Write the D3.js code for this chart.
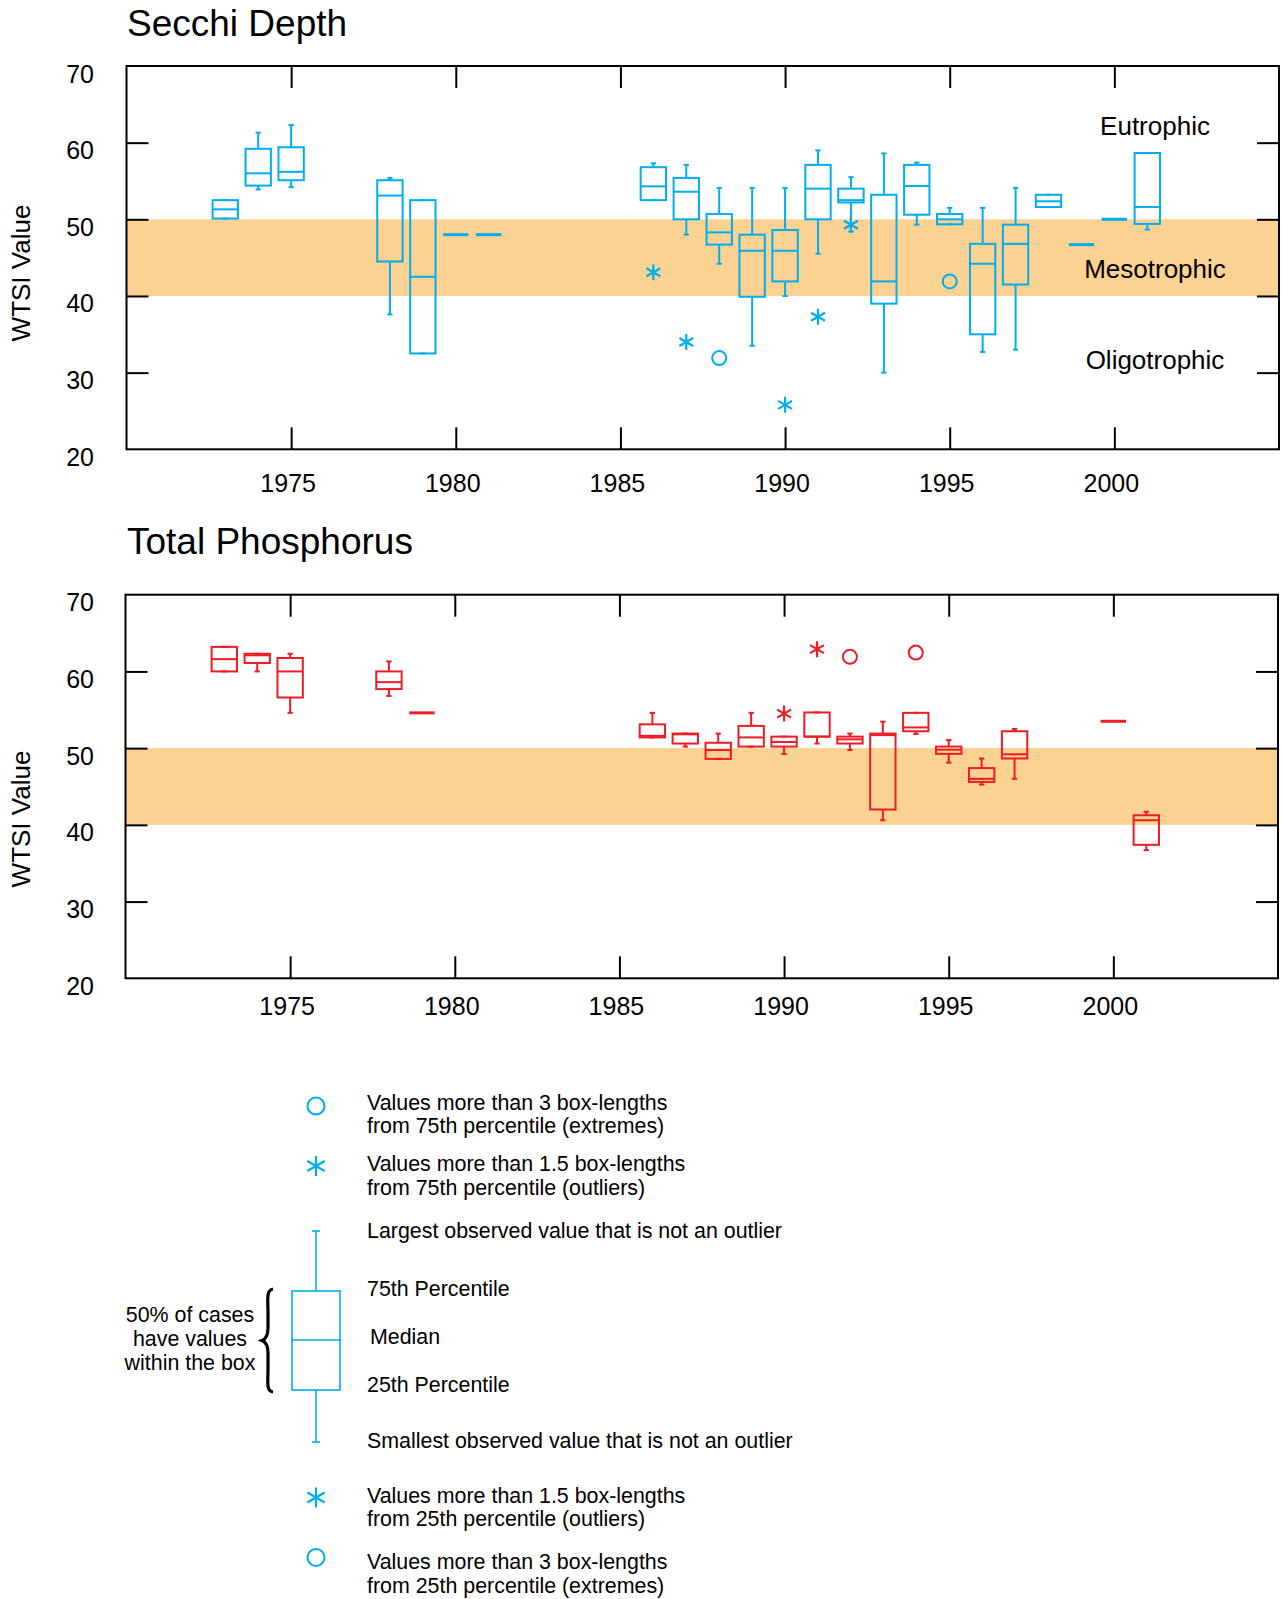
<!DOCTYPE html>
<html>
<head>
<meta charset="utf-8">
<script src="https://cdn.jsdelivr.net/npm/d3@7"></script>
<style>
  html, body { margin: 0; padding: 0; background: #fff; }
  svg { display: block; }
  text { font-family: "Liberation Sans", Arial, Helvetica, sans-serif; fill: #000; }
</style>
</head>
<body>
<svg id="chart" width="1283" height="1599"></svg>
<script>
// ---------- DATA ----------
const xTicks = [1975, 1980, 1985, 1990, 1995, 2000];
const yTicks = [20, 30, 40, 50, 60, 70];
const bandRange = [40, 50];

// Secchi Depth (WTSI)
const secchiYears = [1973, 1974, 1975, 1978, 1979, 1980, 1981, 1986, 1987, 1988, 1989, 1990, 1991, 1992, 1993, 1994, 1995, 1996, 1997, 1998, 1999, 2000, 2001];
const secchiMin   = [50.1, 53.9, 54.2, 37.6, 32.5, 48.0, 48.0, 52.5, 48.0, 44.2, 33.5, 40.0, 45.5, 48.4, 30.0, 49.3, 49.35, 32.7, 33.0, 51.6, 46.7, 50.0, 48.65];
const secchiQ1    = [50.1, 54.4, 55.1, 44.5, 32.5, 48.0, 48.0, 52.5, 50.0, 46.7, 39.9, 41.9, 50.0, 52.2, 39.0, 50.6, 49.35, 35.0, 41.5, 51.6, 46.7, 50.0, 49.4];
const secchiMed   = [51.3, 56.0, 56.2, 53.1, 42.5, 48.0, 48.0, 54.3, 53.6, 48.3, 45.9, 45.9, 54.0, 52.5, 41.9, 54.35, 50.0, 44.2, 46.8, 52.35, 46.7, 50.0, 51.6];
const secchiQ3    = [52.5, 59.2, 59.4, 55.1, 52.5, 48.0, 48.0, 56.8, 55.4, 50.7, 48.0, 48.6, 57.1, 54.0, 53.2, 57.1, 50.7, 46.8, 49.3, 53.2, 46.7, 50.0, 58.65];
const secchiMax   = [52.5, 61.3, 62.3, 55.4, 52.5, 48.0, 48.0, 57.3, 57.1, 54.1, 54.1, 54.1, 59.0, 55.5, 58.6, 57.4, 51.5, 51.5, 54.1, 53.2, 46.7, 50.0, 58.65];
const secchiOutYears  = [1986, 1987, 1988, 1990, 1991, 1992, 1995];
const secchiOutValues = [43.1, 34.0, 31.9, 25.8, 37.3, 49.3, 41.9];
const secchiOutKinds  = ["outlier", "outlier", "extreme", "outlier", "outlier", "outlier", "extreme"];

// Total Phosphorus (WTSI)
const tpYears = [1973, 1974, 1975, 1978, 1979, 1986, 1987, 1988, 1989, 1990, 1991, 1992, 1993, 1994, 1995, 1996, 1997, 2000, 2001];
const tpMin   = [60.0, 60.0, 54.6, 56.8, 54.6, 51.4, 50.2, 48.6, 50.2, 49.24, 50.6, 49.75, 40.6, 51.85, 48.1, 45.25, 46.0, 53.5, 36.7];
const tpQ1    = [60.0, 61.1, 56.6, 57.7, 54.6, 51.4, 50.6, 48.6, 50.2, 50.2, 51.5, 50.6, 42.0, 52.2, 49.25, 45.6, 48.65, 53.5, 37.4];
const tpMed   = [61.6, 62.1, 60.0, 58.6, 54.6, 51.6, 51.8, 49.75, 51.4, 50.8, 51.5, 51.15, 51.7, 52.7, 49.8, 46.0, 49.2, 53.5, 40.6];
const tpQ3    = [63.2, 62.3, 61.75, 60.0, 54.6, 53.1, 51.9, 50.7, 52.9, 51.5, 54.65, 51.5, 51.9, 54.6, 50.2, 47.4, 52.2, 53.5, 41.25];
const tpMax   = [63.2, 62.3, 62.3, 61.3, 54.6, 54.6, 51.9, 51.9, 54.6, 51.5, 54.65, 51.9, 53.45, 54.6, 51.05, 48.65, 52.5, 53.5, 41.7];
const tpOutYears  = [1990, 1991, 1992, 1994];
const tpOutValues = [54.5, 62.9, 61.9, 62.45];
const tpOutKinds  = ["outlier", "outlier", "extreme", "extreme"];

const zoneLabels = ["Eutrophic", "Mesotrophic", "Oligotrophic"];
const zoneValues = [62.2, 43.5, 31.6];

const legendItems = [
  ["Values more than 3 box-lengths", "from 75th percentile (extremes)"],
  ["Values more than 1.5 box-lengths", "from 75th percentile (outliers)"],
  ["Largest observed value that is not an outlier"],
  ["75th Percentile"],
  ["Median"],
  ["25th Percentile"],
  ["Smallest observed value that is not an outlier"],
  ["Values more than 1.5 box-lengths", "from 25th percentile (outliers)"],
  ["Values more than 3 box-lengths", "from 25th percentile (extremes)"]
];
const braceLabel = ["50% of cases", "have values", "within the box"];

// ---------- STYLE ----------
const BLUE = "#00adee";
const RED = "#ee1c25";
const BAND = "#fbd291";

const svg = d3.select("#chart");

function asteriskPath(cx, cy, r) {
  const p = d3.path();
  [90, 30, 150].forEach(a => {
    const t = a * Math.PI / 180;
    p.moveTo(cx - r * Math.cos(t), cy - r * Math.sin(t));
    p.lineTo(cx + r * Math.cos(t), cy + r * Math.sin(t));
  });
  return p.toString();
}

function panel(opts) {
  const { left, right, top, bottom, title, titleY, ylabelY, xLabelY, color,
          years, mins, q1s, meds, q3s, maxs, outYears, outValues, outKinds, zones } = opts;
  const x = d3.scaleLinear().domain([1970, 2005]).range([left, right]);
  const y = d3.scaleLinear().domain([20, 70]).range([bottom, top]);
  const g = svg.append("g");

  // band
  g.append("rect")
    .attr("x", x(1970)).attr("width", x(2005) - x(1970))
    .attr("y", y(bandRange[1])).attr("height", y(bandRange[0]) - y(bandRange[1]))
    .attr("fill", BAND);

  // axes (ticks inward on all four sides)
  const tl = 22;
  const inner = yTicks.filter(v => v > 20 && v < 70);
  const axB = g.append("g").attr("transform", `translate(0,${bottom})`)
    .call(d3.axisBottom(x).tickValues(xTicks).tickSize(-tl).tickFormat(""));
  const axT = g.append("g").attr("transform", `translate(0,${top})`)
    .call(d3.axisTop(x).tickValues(xTicks).tickSize(-tl).tickFormat(""));
  const axL = g.append("g").attr("transform", `translate(${left},0)`)
    .call(d3.axisLeft(y).tickValues(inner).tickSize(-tl).tickFormat(""));
  const axR = g.append("g").attr("transform", `translate(${right},0)`)
    .call(d3.axisRight(y).tickValues(inner).tickSize(-tl).tickFormat(""));
  [axB, axT, axL, axR].forEach(a => {
    a.select(".domain").remove();
    a.selectAll(".tick line").attr("stroke", "#000").attr("stroke-width", 2);
  });
  // frame
  g.append("rect").attr("x", left).attr("y", top)
    .attr("width", right - left).attr("height", bottom - top)
    .attr("fill", "none").attr("stroke", "#000").attr("stroke-width", 2);

  // tick labels
  g.selectAll(".ylab").data(yTicks).enter().append("text")
    .attr("x", 94).attr("y", d => y(d) + 16.5)
    .attr("text-anchor", "end").attr("font-size", 25).text(d => d);
  g.selectAll(".xlab").data(xTicks).enter().append("text")
    .attr("x", d => x(d) - 3).attr("y", xLabelY)
    .attr("text-anchor", "middle").attr("font-size", 25).text(d => d);

  // title & y label
  g.append("text").attr("x", 127).attr("y", titleY).attr("font-size", 37).text(title);
  g.append("text").attr("transform", `translate(30,${ylabelY}) rotate(-90)`)
    .attr("text-anchor", "middle").attr("font-size", 26).text("WTSI Value");

  // zone labels
  if (zones) {
    g.selectAll(".zone").data(zoneLabels).enter().append("text")
      .attr("x", 1155).attr("y", (d, i) => y(zoneValues[i]) + 9)
      .attr("text-anchor", "middle").attr("font-size", 26).text(d => d);
  }

  // boxes
  const hw = 0.385, cw = 0.08;
  years.forEach((yr, i) => {
    const bx = g.append("g").attr("stroke", color).attr("fill", "none");
    if (mins[i] === maxs[i]) {
      bx.append("line").attr("x1", x(yr - hw)).attr("x2", x(yr + hw))
        .attr("y1", y(meds[i])).attr("y2", y(meds[i])).attr("stroke-width", 3);
      return;
    }
    bx.append("line").attr("x1", x(yr)).attr("x2", x(yr)).attr("y1", y(q3s[i])).attr("y2", y(maxs[i])).attr("stroke-width", 2);
    bx.append("line").attr("x1", x(yr)).attr("x2", x(yr)).attr("y1", y(q1s[i])).attr("y2", y(mins[i])).attr("stroke-width", 2);
    bx.append("line").attr("x1", x(yr - cw)).attr("x2", x(yr + cw)).attr("y1", y(maxs[i])).attr("y2", y(maxs[i])).attr("stroke-width", 2);
    bx.append("line").attr("x1", x(yr - cw)).attr("x2", x(yr + cw)).attr("y1", y(mins[i])).attr("y2", y(mins[i])).attr("stroke-width", 2);
    bx.append("rect").attr("x", x(yr - hw)).attr("width", x(yr + hw) - x(yr - hw))
      .attr("y", y(q3s[i])).attr("height", Math.max(0.5, y(q1s[i]) - y(q3s[i])))
      .attr("fill", "none").attr("stroke-width", 2);
    bx.append("line").attr("x1", x(yr - hw)).attr("x2", x(yr + hw))
      .attr("y1", y(meds[i])).attr("y2", y(meds[i])).attr("stroke-width", 2);
  });

  // outliers / extremes
  outYears.forEach((yr, i) => {
    if (outKinds[i] === "extreme") {
      g.append("circle").attr("cx", x(yr)).attr("cy", y(outValues[i])).attr("r", 7)
        .attr("fill", "none").attr("stroke", color).attr("stroke-width", 2);
    } else {
      g.append("path").attr("d", asteriskPath(x(yr), y(outValues[i]), 8))
        .attr("fill", "none").attr("stroke", color).attr("stroke-width", 2.2);
    }
  });
}

panel({ left: 126.5, right: 1279, top: 66, bottom: 449.3, title: "Secchi Depth", titleY: 36,
  ylabelY: 273, xLabelY: 492, color: BLUE, years: secchiYears, mins: secchiMin, q1s: secchiQ1,
  meds: secchiMed, q3s: secchiQ3, maxs: secchiMax, outYears: secchiOutYears,
  outValues: secchiOutValues, outKinds: secchiOutKinds, zones: true });

panel({ left: 125.5, right: 1278, top: 594.7, bottom: 978.3, title: "Total Phosphorus", titleY: 554,
  ylabelY: 819, xLabelY: 1015, color: RED, years: tpYears, mins: tpMin, q1s: tpQ1,
  meds: tpMed, q3s: tpQ3, maxs: tpMax, outYears: tpOutYears,
  outValues: tpOutValues, outKinds: tpOutKinds, zones: false });

// ---------- LEGEND ----------
const lg = svg.append("g");
const sx = 316;
const lx = 367;
const LF = 21.4;
const legendBaselines = [[1110, 1133], [1171, 1195], [1238], [1296], [1344], [1392], [1448], [1503, 1526], [1569, 1593]];
legendItems.forEach((lines, i) => {
  lines.forEach((t, j) => {
    lg.append("text").attr("x", i === 4 ? lx + 3 : lx).attr("y", legendBaselines[i][j])
      .attr("font-size", LF).text(t);
  });
});
lg.append("circle").attr("cx", sx).attr("cy", 1106).attr("r", 8.5).attr("fill", "none").attr("stroke", BLUE).attr("stroke-width", 2);
lg.append("path").attr("d", asteriskPath(sx, 1166, 10)).attr("fill", "none").attr("stroke", BLUE).attr("stroke-width", 2.2);
lg.append("path").attr("d", asteriskPath(sx, 1497.5, 10)).attr("fill", "none").attr("stroke", BLUE).attr("stroke-width", 2.2);
lg.append("circle").attr("cx", sx).attr("cy", 1557.5).attr("r", 8.5).attr("fill", "none").attr("stroke", BLUE).attr("stroke-width", 2);
const lb = lg.append("g").attr("stroke", BLUE).attr("fill", "none").attr("stroke-width", 1.6);
lb.append("line").attr("x1", sx).attr("x2", sx).attr("y1", 1231).attr("y2", 1291);
lb.append("line").attr("x1", sx - 4).attr("x2", sx + 4).attr("y1", 1231).attr("y2", 1231);
lb.append("line").attr("x1", sx).attr("x2", sx).attr("y1", 1390).attr("y2", 1442);
lb.append("line").attr("x1", sx - 4).attr("x2", sx + 4).attr("y1", 1442).attr("y2", 1442);
lb.append("rect").attr("x", 292).attr("y", 1291).attr("width", 48).attr("height", 99);
lb.append("line").attr("x1", 292).attr("x2", 340).attr("y1", 1340).attr("y2", 1340);
const bp = d3.path();
bp.moveTo(273, 1289);
bp.bezierCurveTo(266, 1290, 268, 1300, 268, 1312);
bp.lineTo(268, 1328);
bp.bezierCurveTo(268, 1336, 266, 1339, 262, 1340.5);
bp.bezierCurveTo(266, 1342, 268, 1345, 268, 1353);
bp.lineTo(268, 1370);
bp.bezierCurveTo(268, 1382, 266, 1391, 273, 1392);
lg.append("path").attr("d", bp.toString()).attr("fill", "none").attr("stroke", "#000").attr("stroke-width", 3.2);
braceLabel.forEach((t, i) => {
  lg.append("text").attr("x", 190).attr("y", 1322 + i * 24).attr("text-anchor", "middle").attr("font-size", LF).text(t);
});
</script>
</body>
</html>
